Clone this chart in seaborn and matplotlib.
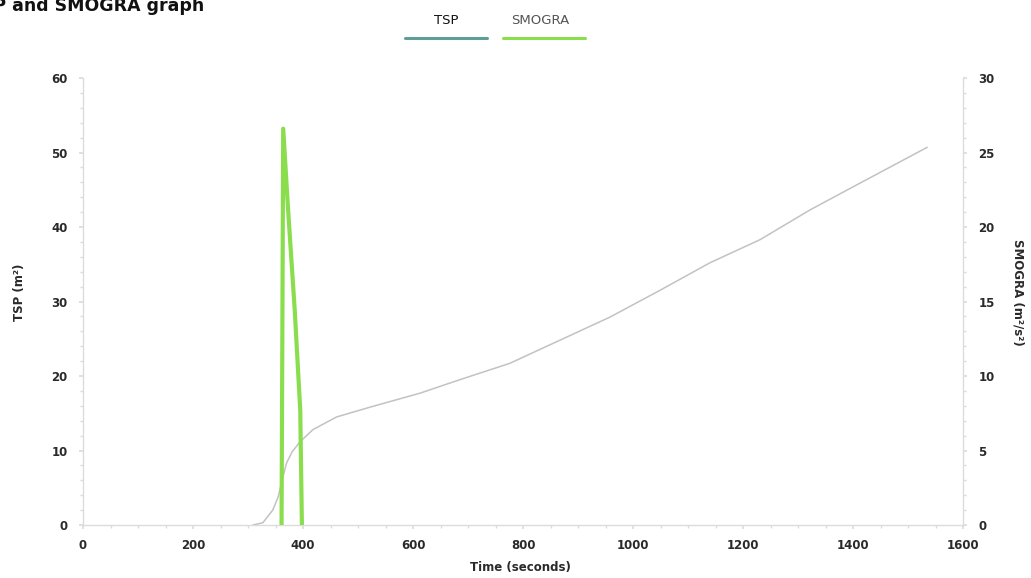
import matplotlib
matplotlib.use("Agg")
import matplotlib.pyplot as plt
from matplotlib.lines import Line2D
import seaborn as sns
import pandas as pd

# ---- data ----
tsp_time = [309, 327, 345, 355, 362, 370, 380, 395, 418, 461, 521, 613, 685,
            776, 867, 958, 1049, 1140, 1231, 1322, 1413, 1535]
tsp_values = [0, 0.3, 2, 3.8, 6, 8.3, 9.8, 11.2, 12.8, 14.5, 15.8, 17.7, 19.5,
              21.7, 24.8, 27.9, 31.5, 35.2, 38.3, 42.3, 45.9, 50.7]
smogra_time = [361, 364, 373, 385, 395, 398]
smogra_values = [0, 26.6, 21.1, 14.4, 7.7, 0]

x_ticks = [0, 200, 400, 600, 800, 1000, 1200, 1400, 1600]
left_ticks = [0, 10, 20, 30, 40, 50, 60]
right_ticks = [0, 5, 10, 15, 20, 25, 30]

title_text = "TSP and SMOGRA graph"
series_names = ["TSP", "SMOGRA"]
x_label = "Time (seconds)"
left_label = "TSP (m²)"
right_label = "SMOGRA (m²/s²)"

tsp_df = pd.DataFrame({"time": tsp_time, "value": tsp_values})
smogra_df = pd.DataFrame({"time": smogra_time, "value": smogra_values})

sns.set_theme(style="white")
plt.rcParams["font.family"] = ["DejaVu Sans"]

W, H = 1031, 578
fig = plt.figure(figsize=(W / 100, H / 100), dpi=100)
ax = fig.add_axes([83 / W, 1 - 525 / H, (963 - 83) / W, (525 - 78) / H])
ax2 = ax.twinx()

tsp_line_color = "#c2c2c2"
tsp_legend_color = "#5f9e96"
smogra_color = "#8ade4e"

sns.lineplot(data=tsp_df, x="time", y="value", ax=ax, color=tsp_line_color,
             linewidth=1.1, estimator=None, sort=False)
sns.lineplot(data=smogra_df, x="time", y="value", ax=ax2, color=smogra_color,
             linewidth=3.0, estimator=None, sort=False)

ax.set_xlim(0, 1600)
ax.set_ylim(0, 60)
ax2.set_ylim(0, 30)
ax.set_xticks(x_ticks)
ax.set_yticks(left_ticks)
ax2.set_yticks(right_ticks)

spine_color = "#dcdcdc"
for a in (ax, ax2):
    for s in a.spines.values():
        s.set_visible(False)
ax.spines["left"].set_visible(True)
ax.spines["bottom"].set_visible(True)
ax2.spines["right"].set_visible(True)
for s in (ax.spines["left"], ax.spines["bottom"], ax2.spines["right"]):
    s.set_color(spine_color)
    s.set_linewidth(1.0)

ax.set_xticks(range(0, 1601, 50), minor=True)
ax.set_yticks(range(0, 61, 2), minor=True)
ax2.set_yticks([v / 2 for v in range(0, 61, 2)], minor=True)

tick_kw = dict(color=spine_color, labelcolor="#2a2a2a", labelsize=8.5)
ax.tick_params(axis="x", which="major", direction="out", length=3, pad=7, bottom=True, **tick_kw)
ax.tick_params(axis="y", which="major", direction="out", length=3, pad=8, left=True, **tick_kw)
ax2.tick_params(axis="y", which="major", direction="out", length=3, pad=8, right=True, **tick_kw)
ax.tick_params(axis="x", which="minor", length=2, color=spine_color, bottom=True)
ax.tick_params(axis="y", which="minor", length=2, color=spine_color, left=True)
ax2.tick_params(axis="y", which="minor", length=2, color=spine_color, right=True)
for lab in ax.get_xticklabels() + ax.get_yticklabels() + ax2.get_yticklabels():
    lab.set_fontweight("bold")

ax.set_xlabel(x_label, fontsize=8.5, fontweight="bold", color="#2a2a2a", va="center")
ax.xaxis.set_label_coords((520 - 83) / (963 - 83), -(568 - 525) / (525 - 78))
ax.set_ylabel(left_label, fontsize=8.5, fontweight="bold", color="#2a2a2a", va="center")
ax.yaxis.set_label_coords(-(83 - 19) / (963 - 83), 0.52)
ax2.set_ylabel(right_label, fontsize=8.5, fontweight="bold", color="#2a2a2a",
               rotation=270, va="center")
ax2.yaxis.set_label_coords((1018 - 83) / (963 - 83), 0.52)
ax.grid(False)
ax2.grid(False)

# clipped title at top-left (the reference shows it cut at the page edge)
fig.text(204 / W, 1 - 6 / H, title_text, ha="right", va="center",
         fontsize=12.5, fontweight="bold", color="#111111")

# custom legend: text above a coloured bar
legend_items = [
    (series_names[0], tsp_legend_color, 446, 405, 487, "#111111"),
    (series_names[1], smogra_color, 540, 503, 585, "#555555"),
]
for name, col, cx, x0, x1, tcol in legend_items:
    fig.text(cx / W, 1 - 20 / H, name, ha="center", va="center",
             fontsize=9.5, color=tcol)
    fig.add_artist(Line2D([x0 / W, x1 / W], [1 - 38 / H, 1 - 38 / H],
                          color=col, linewidth=2.2, transform=fig.transFigure))

fig.savefig("out.png", dpi=100)
